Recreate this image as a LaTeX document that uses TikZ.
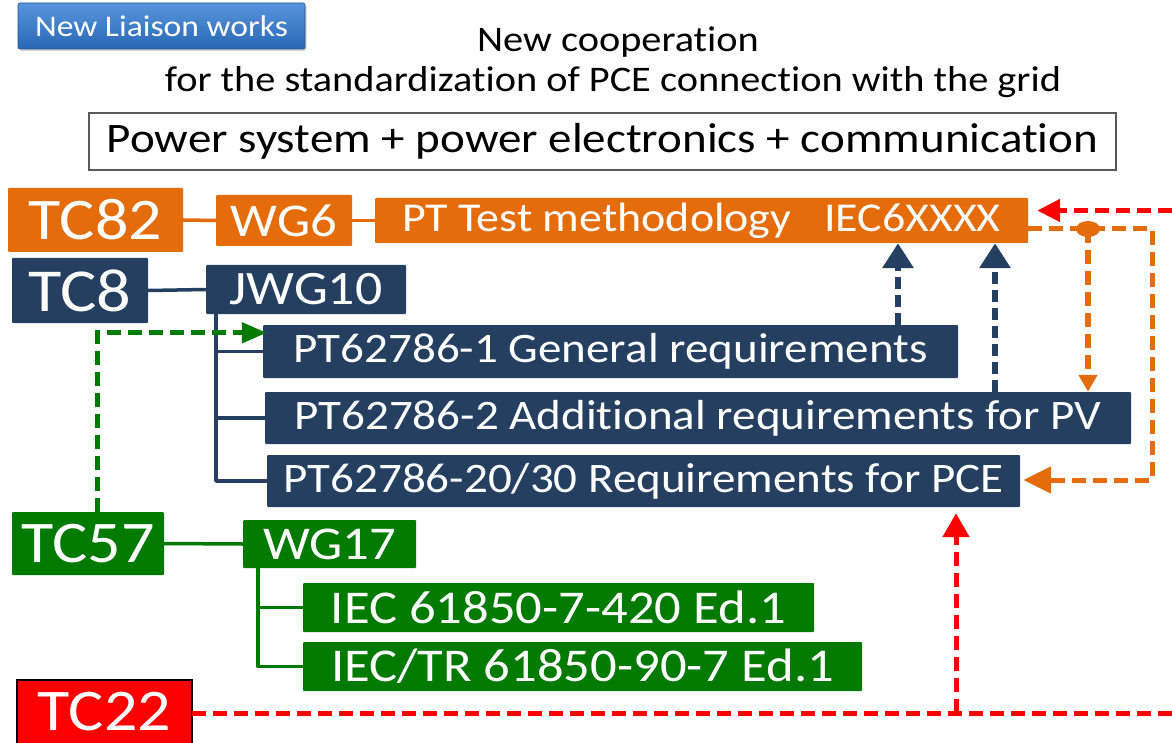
\documentclass[tikz,border=0pt]{standalone}
\usepackage{fontspec}
\setmainfont{Carlito}[FakeStretch=1.12,Ligatures={NoCommon}]
\usetikzlibrary{arrows.meta,calc,shadows}
\definecolor{orng}{RGB}{228,108,10}
\definecolor{navy}{RGB}{36,63,96}
\definecolor{grn}{RGB}{0,122,0}
\definecolor{btnTop}{RGB}{88,148,220}
\definecolor{btnBot}{RGB}{40,104,180}
\tikzset{
  fs/.style={font=\fontsize{#1}{#1}\selectfont},
  box/.style={inner sep=0pt, text=white, anchor=center, rounded corners=1pt},
  obox/.style={box, fill=orng},
  nbox/.style={box, fill=navy},
  gbox/.style={box, fill=grn},
  tree/.style={line width=3.5pt, line cap=round, line join=round},
  dsh/.style={line width=5pt, dash pattern=on 14pt off 7pt},
}
\begin{document}
\begin{tikzpicture}[x=1pt,y=-1pt]
\useasboundingbox (0,0) rectangle (1172,743);
% title area
\node[box, minimum width=287pt, minimum height=46pt, top color=btnTop, bottom color=btnBot, draw=btnBot!80!black, line width=0.6pt, fs=30, rounded corners=2pt, drop shadow={opacity=0.35, shadow xshift=1.5pt, shadow yshift=-2pt}] (liaison) at (161.5,26) {New Liaison works};
\node[fs=36, inner sep=0pt] (coop1) at (618,42) {New cooperation};
\node[fs=36, inner sep=0pt] (coop2) at (613,82) {for the standardization of PCE connection with the grid};
\node[draw=black!65, line width=1.2pt, minimum width=1027pt, minimum height=57pt, inner sep=0pt, fs=42] (ps) at (602.5,141.5) {Power system + power electronics + communication};
% TC82 row
\node[obox, minimum width=175pt, minimum height=64pt, fs=59] (tc82) at (95.5,220) {TC82};
\node[obox, minimum width=136pt, minimum height=51pt, fs=47] (wg6) at (284,220.5) {WG6};
\node[obox, minimum width=653pt, minimum height=45pt, fs=41] (ptt) at (701.5,220.5) {PT Test methodology\hspace{0.8em}IEC6XXXX};
\draw[orng, line width=3.5pt] (tc82.east) -- (wg6.west);
\draw[orng, line width=3.5pt] (wg6.east) -- (ptt.west);
% TC8 row
\node[nbox, minimum width=136pt, minimum height=65pt, fs=61] (tc8) at (80,290.5) {TC8};
\node[nbox, minimum width=200pt, minimum height=49pt, fs=48] (jwg10) at (306,289.5) {JWG10};
\node[nbox, minimum width=695pt, minimum height=53pt, fs=42] (p1) at (610.5,351.5) {PT62786-1 General requirements};
\node[nbox, minimum width=866pt, minimum height=52pt, fs=42] (p2) at (698,418) {PT62786-2 Additional requirements for PV};
\node[nbox, minimum width=753pt, minimum height=52pt, fs=42] (p3) at (643.5,481) {PT62786-20/30 Requirements for PCE};
\draw[navy, tree] (tc8.east) -- (jwg10.west);
\coordinate (jv) at (216,314);
\draw[navy, tree] (jv) |- (p3.west);
\draw[navy, tree] (jv |- p1.west) -- (p1.west);
\draw[navy, tree] (jv |- p2.west) -- (p2.west);
% TC57 row
\node[gbox, minimum width=152pt, minimum height=63pt, fs=59] (tc57) at (88,543.5) {TC57};
\node[gbox, minimum width=173pt, minimum height=48pt, fs=47] (wg17) at (329.5,544) {WG17};
\node[gbox, minimum width=511pt, minimum height=49pt, fs=47] (i1) at (558.5,607.5) {IEC 61850-7-420 Ed.1};
\node[gbox, minimum width=559pt, minimum height=49pt, fs=47] (i2) at (582.5,666.5) {IEC/TR 61850-90-7 Ed.1};
\draw[grn, tree] (tc57.east) -- (wg17.west);
\coordinate (gv) at (258,568);
\draw[grn, tree] (gv) |- (i2.west);
\draw[grn, tree] (gv |- i1.west) -- (i1.west);
% TC22 (box runs off the bottom edge)
\node[box, fill=red, rounded corners=0pt, minimum width=175pt, minimum height=63pt, fs=59] (tc22) at (104.5,711.5) {TC22};
\draw[black, line width=2.5pt] (tc22.south west) |- (tc22.north east) -- (tc22.south east);
% green dashed
\coordinate (gs) at (97,512);
\coordinate (gt) at ($(p1.north west)+(4,8)$);
\draw[grn, dsh, -{Triangle[length=25pt,width=20pt]}] (gs) |- (gt);
% navy dashed arrows
\draw[navy, dsh, line width=6.5pt, dash pattern=on 12pt off 6pt, -{Triangle[length=25pt,width=30pt]}] (p1.north -| 898,0) -- (ptt.south -| 898,0);
\draw[navy, dsh, line width=6.5pt, dash pattern=on 12pt off 6pt, -{Triangle[length=25pt,width=30pt]}] (p2.north -| 995,0) -- (ptt.south -| 995,0);
% orange dashed
\coordinate (oa) at ($(ptt.east)+(0,8.5)$);
\coordinate (oc) at (1152,229);
\coordinate (od) at (1088,229);
\coordinate (oe) at ($(p3.east)+(3,-1)$);
\draw[orng, dsh, line join=round, -{Triangle[length=28pt,width=26pt]}] (oa) -- (oc) |- (oe);
\draw[orng, dsh, line width=6pt, -{Triangle[length=17pt,width=18pt]}] (od) -- (p2.north -| od);
\fill[orng] (od) ellipse [x radius=12pt, y radius=8pt];
% red dashed
\coordinate (ra) at (1172,210.5);
\coordinate (rb) at ($(ptt.east)+(9,-10)$);
\draw[red, dsh, -{Triangle[length=23pt,width=22pt]}] (ra) -- (rb);
\coordinate (rc) at (1172,713);
\coordinate (rj) at (956,713);
\coordinate (rt) at ($(p3.south -| rj)+(0,6)$);
\draw[red, dsh] (tc22.east |- rc) -- (rc);
\draw[red, dsh, -{Triangle[length=24pt,width=26pt]}] (rj) -- (rt);
\end{tikzpicture}
\end{document}
